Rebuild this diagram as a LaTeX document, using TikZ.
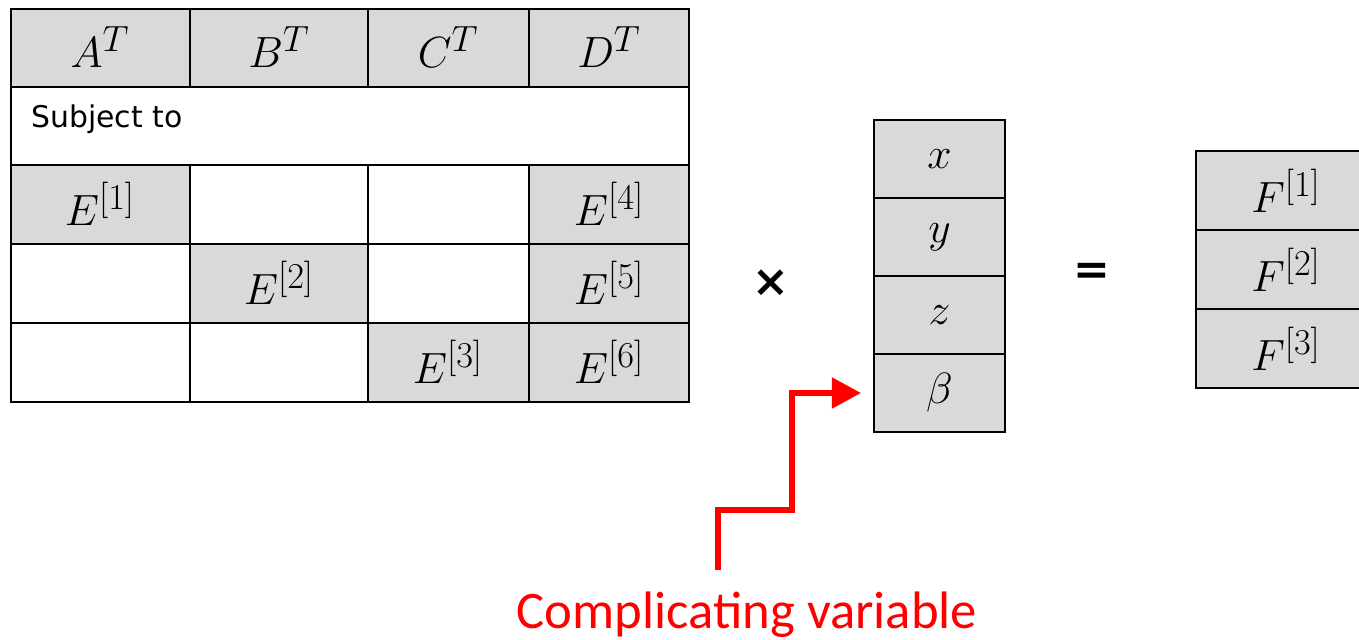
\documentclass[tikz,border=0pt]{standalone}
\usepackage{fontspec}
\usetikzlibrary{arrows.meta,calc}
\newfontfamily\tablefont{DejaVu Sans}
\newfontfamily\notefont{Carlito}
\definecolor{cellgray}{HTML}{D9D9D9}
\definecolor{notered}{HTML}{FF0000}

\begin{document}
\begin{tikzpicture}[x=0.02cm,y=-0.02cm,line join=miter,
    grid/.style={black,line width=1.2pt},
    entry/.style={inner sep=0pt,font=\fontsize{28}{32}\selectfont},
    cell/.style={draw=black,line width=1.2pt,fill=cellgray,inner sep=0pt,
      minimum width=2.62cm,minimum height=1.56cm,font=\fontsize{28}{32}\selectfont},
    rhs/.style={cell,minimum width=3.6cm,minimum height=1.58cm},
    cvarrow/.style={notered,line width=2.9pt,
      -{Triangle[length=0.58cm,width=0.6cm]},shorten >=0.24cm}]
  \path[use as bounding box] (0,0) rectangle (1359,639);
  \clip (0,0) rectangle (1359,639);

  % Block matrix: grey blocks first, then the grid over them.
  \fill[cellgray] (11,9) rectangle (689,87);
  \fill[cellgray] (11,165) rectangle (190,244);
  \fill[cellgray] (190,244) rectangle (368,323);
  \fill[cellgray] (368,323) rectangle (529,402);
  \fill[cellgray] (529,165) rectangle (689,402);
  \draw[grid] (11,9) rectangle (689,402);
  \foreach \yy in {87,165,244,323}
    \draw[grid] (11,\yy) -- (689,\yy);
  \foreach \xx in {190,368,529}{
    \draw[grid] (\xx,9) -- (\xx,87);
    \draw[grid] (\xx,165) -- (\xx,402);
  }

  % Column heads and the diagonal/linking blocks.
  \foreach \name/\xx/\txt in {a/100/A, b/279/B, c/448/C, d/609/D}
    \node[entry] (head\name) at (\xx,47) {$\txt^T$};
  \node[anchor=base west,inner sep=0pt,font=\tablefont\fontsize{17}{20}\selectfont]
    (subj) at (31,127) {Subject to};
  \foreach \k/\xx/\yy in {1/100/204, 2/279/283, 3/448/362, 4/609/204, 5/609/283, 6/609/362}
    \node[entry] (blk\k) at (\xx,\yy) {$E^{[\k]}$};

  % Variable vector and right-hand side.
  \node[font=\tablefont\bfseries\fontsize{25}{28}\selectfont] (times) at (771,283) {×};
  \node[cell] (vx) at (939.5,159) {$x$};
  \node[cell] (vy) at (939.5,237) {$y$};
  \node[cell] (vz) at (939.5,315) {$z$};
  \node[cell] (vbeta) at (939.5,393) {$\beta$};
  \node[font=\tablefont\bfseries\fontsize{25}{28}\selectfont] (equals) at (1092,274) {=};
  \foreach \k/\yy in {1/190.5, 2/269.5, 3/348.5}
    \node[rhs] (rhs\k) at (1286,\yy) {$F^{[\k]}$};

  % Call-out for the linking variable.
  \node[anchor=base,inner sep=0pt,text=notered,font=\notefont\fontsize{30}{34}\selectfont]
    (cvnote) at (747,628) {Complicating variable};
  \coordinate (cvtail) at (718,570);
  \coordinate (cvbend) at (792,510);
  \draw[cvarrow] (cvtail) |- (cvbend) |- (vbeta.west);
\end{tikzpicture}
\end{document}
